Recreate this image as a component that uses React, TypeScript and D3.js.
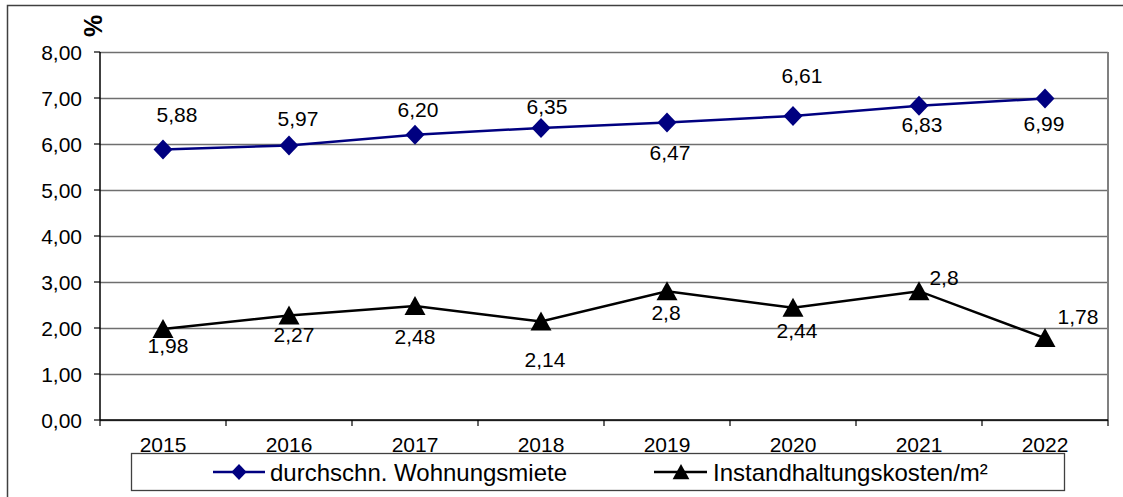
import React from "react";
import * as d3 from "d3";

const years = ["2015", "2016", "2017", "2018", "2019", "2020", "2021", "2022"];
const miete = [5.88, 5.97, 6.2, 6.35, 6.47, 6.61, 6.83, 6.99];
const instandhaltung = [1.98, 2.27, 2.48, 2.14, 2.8, 2.44, 2.8, 1.78];
const yTicks = [0, 1, 2, 3, 4, 5, 6, 7, 8];
const legendLabels = ["durchschn. Wohnungsmiete", "Instandhaltungskosten/m²"];

// where the data labels sit, relative to their point (dx, baseline dy)
const mieteLabelPos = [
  [14, -28], [9, -19], [3, -18], [6, -14], [3, 38], [9, -33], [3, 26], [-1, 33],
];
const instLabelPos = [
  [5, 24], [5, 26], [0, 38], [4, 45], [-1, 29], [4, 30], [25, -6], [33, -14],
];

const W = 1123;
const H = 497;
const M = { left: 100, right: 1108, top: 52, bottom: 420 };
const FONT = "'Liberation Sans', Arial, sans-serif";
const NAVY = "#000080";

const comma = (s: string) => s.replace(".", ",");
const fmt2 = d3.format(".2f");

const diamond = "M0,-10L9.5,0L0,10L-9.5,0Z";
const triangle = "M0,-10L10.5,9L-10.5,9Z";

const App = () => {
  const x = d3.scaleBand<string>().domain(years).range([M.left, M.right]);
  const y = d3.scaleLinear().domain([0, 8]).range([M.bottom, M.top]);
  const cx = (yr: string) => (x(yr) as number) + x.bandwidth() / 2;

  const line = d3
    .line<number>()
    .x((d, i) => cx(years[i]))
    .y((d) => y(d));

  return (
    <svg
      width={W}
      height={H}
      style={{ position: "absolute", left: 0, top: 0, background: "#fff" }}
      fontFamily={FONT}
    >
      <rect x={7.5} y={5.5} width={1300} height={700} fill="none" stroke="#404040" strokeWidth={1.5} />

      {/* gridlines */}
      {yTicks.map((t) => (
        <line
          key={"g" + t}
          x1={M.left}
          x2={M.right}
          y1={Math.round(y(t)) + 0.5}
          y2={Math.round(y(t)) + 0.5}
          stroke="#6f6f6f"
          strokeWidth={1.3}
        />
      ))}
      {/* plot area border right */}
      <line x1={M.right} x2={M.right} y1={M.top} y2={M.bottom} stroke="#808080" strokeWidth={2} />

      {/* y axis */}
      <line x1={M.left} x2={M.left} y1={M.top} y2={M.bottom} stroke="#000" strokeWidth={1.5} />
      {yTicks.map((t) => (
        <g key={"yt" + t}>
          <line x1={M.left - 6} x2={M.left} y1={y(t)} y2={y(t)} stroke="#000" strokeWidth={1.2} />
          <text x={82} y={y(t)} dy="0.36em" textAnchor="end" fontSize={21} fill="#000">
            {comma(fmt2(t))}
          </text>
        </g>
      ))}
      <text
        transform={`translate(102,26) rotate(-90)`}
        textAnchor="middle"
        fontSize={25}
        fontWeight="bold"
        fill="#000"
      >
        %
      </text>

      {/* x axis */}
      <line x1={M.left} x2={M.right} y1={M.bottom} y2={M.bottom} stroke="#000" strokeWidth={1.5} />
      {years.map((yr) => (
        <line
          key={"xt" + yr}
          x1={x(yr)}
          x2={x(yr)}
          y1={M.bottom}
          y2={M.bottom + 6}
          stroke="#000"
          strokeWidth={1.2}
        />
      ))}
      <line x1={M.right} x2={M.right} y1={M.bottom} y2={M.bottom + 6} stroke="#000" strokeWidth={1.2} />
      {years.map((yr) => (
        <text key={"xl" + yr} x={cx(yr)} y={452} textAnchor="middle" fontSize={21} fill="#000">
          {yr}
        </text>
      ))}

      {/* series lines */}
      <path d={line(miete) || ""} fill="none" stroke={NAVY} strokeWidth={2.5} />
      <path d={line(instandhaltung) || ""} fill="none" stroke="#000" strokeWidth={2.5} />

      {miete.map((v, i) => (
        <path key={"m" + i} d={diamond} transform={`translate(${cx(years[i])},${y(v)})`} fill={NAVY} />
      ))}
      {instandhaltung.map((v, i) => (
        <path key={"t" + i} d={triangle} transform={`translate(${cx(years[i])},${y(v)})`} fill="#000" />
      ))}

      {/* data labels */}
      {miete.map((v, i) => (
        <text
          key={"ml" + i}
          x={cx(years[i]) + mieteLabelPos[i][0]}
          y={y(v) + mieteLabelPos[i][1]}
          textAnchor="middle"
          fontSize={21}
          fill="#000"
        >
          {comma(fmt2(v))}
        </text>
      ))}
      {instandhaltung.map((v, i) => (
        <text
          key={"il" + i}
          x={cx(years[i]) + instLabelPos[i][0]}
          y={y(v) + instLabelPos[i][1]}
          textAnchor="middle"
          fontSize={21}
          fill="#000"
        >
          {comma(String(v))}
        </text>
      ))}

      {/* legend */}
      <rect x={131.5} y={453.5} width={933} height={37} fill="#fff" stroke="#404040" strokeWidth={1.3} />
      <line x1={213} x2={265} y1={472} y2={472} stroke={NAVY} strokeWidth={2.5} />
      <path d={diamond} transform="translate(239,472) scale(0.8)" fill={NAVY} />
      <text x={270} y={472} dy="0.36em" fontSize={24} fill="#000">
        {legendLabels[0]}
      </text>
      <line x1={654} x2={707} y1={472} y2={472} stroke="#000" strokeWidth={2.5} />
      <path d={triangle} transform="translate(681,472) scale(0.8)" fill="#000" />
      <text x={713} y={472} dy="0.36em" fontSize={24} fill="#000">
        {legendLabels[1]}
      </text>
    </svg>
  );
};

export default App;
